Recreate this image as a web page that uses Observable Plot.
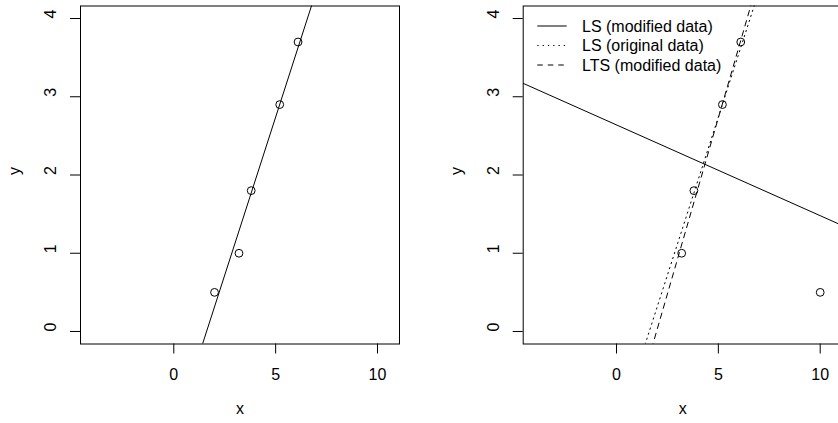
<!DOCTYPE html>
<html><head><meta charset="utf-8">
<script src="https://cdn.jsdelivr.net/npm/d3@7"></script>
<script src="https://cdn.jsdelivr.net/npm/@observablehq/plot@0.6"></script>
<style>
html,body{margin:0;padding:0;background:#fff;overflow:hidden}
#wrap{position:relative;width:838px;height:423px;overflow:hidden;background:#fff}
#wrap svg{position:absolute;top:0}
</style></head><body><div id="wrap"></div>
<script>
// ---- data ----
const xTicks = [0, 5, 10];
const yTicks = [0, 1, 2, 3, 4];
const xLimits = [-4.58, 11.08];
const yLimits = [-0.16, 4.16];
const originalX = [2.0, 3.2, 3.8, 5.2, 6.1];
const originalY = [0.5, 1.0, 1.8, 2.9, 3.7];
const modifiedX = [10.0, 3.2, 3.8, 5.2, 6.1];
const modifiedY = [0.5, 1.0, 1.8, 2.9, 3.7];
const fitNames = ["LS (modified data)", "LS (original data)", "LTS (modified data)"];
const fitIntercepts = [2.64, -1.30, -1.77];
const fitSlopes = [-0.116, 0.808, 0.900];

// ---- styles ----
const FONT = "'Liberation Sans', Arial, Helvetica, sans-serif";
const dashFor = {"LS (modified data)": null, "LS (original data)": "1.3,4", "LTS (modified data)": "5.5,5"};

function fitLine(i) {
  return xLimits.map(x => ({x, y: fitIntercepts[i] + fitSlopes[i] * x}));
}

function panel({xs, ys, fits, dashed, width, marginLeft, marginRight}) {
  const marks = [
    Plot.frame({stroke: "black", strokeWidth: 1}),
    Plot.axisX(xTicks, {tickSize: 10, tickPadding: 14.6, fontSize: 16, label: null}),
    Plot.axisY(yTicks, {tickSize: 10, tickFormat: () => "", label: null}),
    Plot.text(yTicks, {y: d => d, text: d => String(d), frameAnchor: "left", dx: -29.4, rotate: -90, fontSize: 16}),
    Plot.text(["y"], {text: d => d, frameAnchor: "left", dx: -66, rotate: -90, fontSize: 16}),
    Plot.text(["x"], {text: d => d, frameAnchor: "bottom", dy: 69.5, fontSize: 16}),
    ...fits.map(i => Plot.line(fitLine(i), {x: "x", y: "y", stroke: "black", strokeWidth: 1,
        strokeDasharray: (dashed && dashFor[fitNames[i]]) || undefined, clip: true})),
    Plot.dot(d3.range(xs.length), {x: i => xs[i], y: i => ys[i], r: 3.9, stroke: "black", fill: "none", strokeWidth: 1})
  ];
  return Plot.plot({
    width, height: 423,
    marginLeft, marginRight, marginTop: 5.5, marginBottom: 79.5,
    x: {domain: xLimits, label: null},
    y: {domain: yLimits, label: null},
    style: {fontFamily: FONT, fontSize: "16px", color: "black", background: "white", overflow: "visible"},
    marks
  });
}

const wrap = document.getElementById("wrap");
const left = panel({xs: originalX, ys: originalY, fits: [1], dashed: false, width: 420, marginLeft: 80, marginRight: 21});
left.style.left = "0px";
wrap.appendChild(left);

const mL = 102.7;
const right = panel({xs: modifiedX, ys: modifiedY, fits: [0, 1, 2], dashed: true, width: 422, marginLeft: mL, marginRight: 0.3});
right.style.left = "420px";
wrap.appendChild(right);

// legend (no box), inside the right panel's top-left corner
const g = d3.select(right).append("g").attr("font-family", FONT).attr("font-size", 16).attr("text-anchor", "start");
fitNames.forEach((name, i) => {
  const yy = 5.5 + 20.5 + i * 19.5;
  const ln = g.append("line").attr("x1", mL + 14.6).attr("x2", mL + 44).attr("y1", yy).attr("y2", yy)
    .attr("stroke", "black").attr("stroke-width", 1);
  if (dashFor[name]) ln.attr("stroke-dasharray", dashFor[name]);
  g.append("text").attr("x", mL + 59.3).attr("y", yy).attr("dy", "0.35em").attr("fill", "black")
    .attr("text-anchor", "start").text(name);
});
</script>
</body></html>
